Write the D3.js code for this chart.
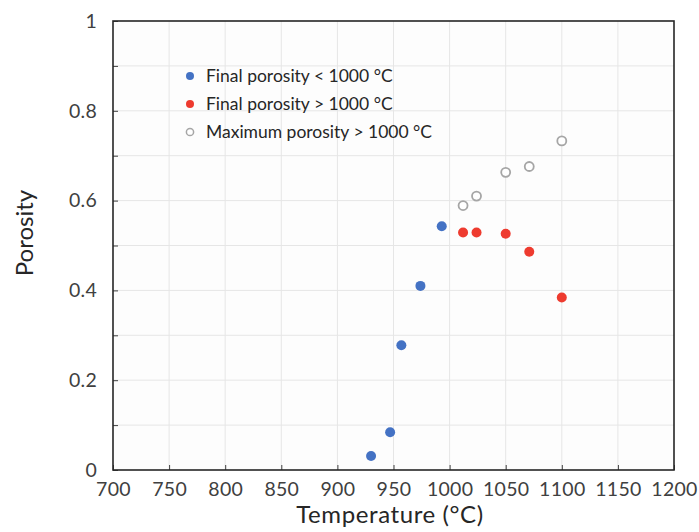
<!DOCTYPE html>
<html>
<head>
<meta charset="utf-8">
<script src="https://cdn.jsdelivr.net/npm/d3@7"></script>
<style>
  html, body { margin: 0; padding: 0; background: #ffffff; }
  svg { display: block; }
</style>
</head>
<body>
<script>
// Sintering temperature (°C) and measured porosity
const finalBelowTemp = [930, 947, 957, 974, 993];
const finalBelowPor  = [0.031, 0.084, 0.278, 0.410, 0.543];

const finalAboveTemp = [1012, 1024, 1050, 1071, 1100];
const finalAbovePor  = [0.529, 0.529, 0.526, 0.486, 0.384];

const maxAboveTemp = [1012, 1024, 1050, 1071, 1100];
const maxAbovePor  = [0.589, 0.610, 0.663, 0.676, 0.733];

const xTicks = [700, 750, 800, 850, 900, 950, 1000, 1050, 1100, 1150, 1200];
const yTickLabels = [0, 0.2, 0.4, 0.6, 0.8, 1];
const yGrid = [0, 0.1, 0.2, 0.3, 0.4, 0.5, 0.6, 0.7, 0.8, 0.9, 1];

const legendLabels = [
  "Final porosity < 1000 °C",
  "Final porosity > 1000 °C",
  "Maximum porosity > 1000 °C"
];

const W = 699, H = 532;
const m = { left: 113, right: 674, top: 21, bottom: 470 };

const svg = d3.select("body").append("svg")
  .attr("width", W).attr("height", H);

const x = d3.scaleLinear().domain([700, 1200]).range([m.left, m.right]);
const y = d3.scaleLinear().domain([0, 1]).range([m.bottom, m.top]);

const font = "Lato, 'Open Sans', sans-serif";
const textColor = "#404040";

// plot background
svg.append("rect")
  .attr("x", m.left).attr("y", m.top)
  .attr("width", m.right - m.left).attr("height", m.bottom - m.top)
  .attr("fill", "#fdfdfd");

// gridlines
svg.append("g").selectAll("line").data(xTicks.slice(1, -1)).join("line")
  .attr("x1", d => x(d)).attr("x2", d => x(d))
  .attr("y1", m.top).attr("y2", m.bottom)
  .attr("stroke", "#e6e6e6").attr("stroke-width", 1);
svg.append("g").selectAll("line").data(yGrid.slice(1, -1)).join("line")
  .attr("x1", m.left).attr("x2", m.right)
  .attr("y1", d => y(d)).attr("y2", d => y(d))
  .attr("stroke", "#e6e6e6").attr("stroke-width", 1);

// axes with inward ticks
const xAxis = svg.append("g")
  .attr("transform", `translate(0,${m.bottom})`)
  .call(d3.axisBottom(x).tickValues(xTicks).tickSizeInner(-5).tickSizeOuter(0).tickPadding(12).tickFormat(d3.format("d")));
const yAxis = svg.append("g")
  .attr("transform", `translate(${m.left},0)`)
  .call(d3.axisLeft(y).tickValues(yGrid).tickSizeInner(-5).tickSizeOuter(0).tickPadding(16)
    .tickFormat(d => yTickLabels.some(v => Math.abs(v - d) < 1e-9) ? String(+d.toFixed(1)) : ""));

[xAxis, yAxis].forEach(g => {
  g.select(".domain").remove();
  g.selectAll(".tick line").attr("stroke", "#404040").attr("stroke-width", 1);
  g.selectAll(".tick text")
    .attr("fill", textColor)
    .style("font-family", font)
    .style("font-size", "19.5px")
    .style("letter-spacing", "0.3px");
});

// frame
svg.append("rect")
  .attr("x", m.left).attr("y", m.top)
  .attr("width", m.right - m.left).attr("height", m.bottom - m.top)
  .attr("fill", "none").attr("stroke", "#262626").attr("stroke-width", 1.6);

// axis titles
svg.append("text")
  .attr("x", 390).attr("y", 523)
  .attr("text-anchor", "middle")
  .attr("fill", "#262626")
  .style("font-family", font).style("font-size", "24px")
  .style("letter-spacing", "0.6px")
  .text("Temperature (°C)");
svg.append("text")
  .attr("transform", `translate(33,233) rotate(-90)`)
  .attr("text-anchor", "middle")
  .attr("fill", "#262626")
  .style("font-family", font).style("font-size", "24px")
  .text("Porosity");

// data
const blue = "#4472c4", red = "#ee3b2f", gray = "#a6a6a6";
const r = 5;

svg.append("g").selectAll("circle").data(d3.zip(maxAboveTemp, maxAbovePor)).join("circle")
  .attr("cx", d => x(d[0])).attr("cy", d => y(d[1])).attr("r", r - 0.5)
  .attr("fill", "#ffffff").attr("stroke", gray).attr("stroke-width", 1.8);

svg.append("g").selectAll("circle").data(d3.zip(finalBelowTemp, finalBelowPor)).join("circle")
  .attr("cx", d => x(d[0])).attr("cy", d => y(d[1])).attr("r", r)
  .attr("fill", blue);

svg.append("g").selectAll("circle").data(d3.zip(finalAboveTemp, finalAbovePor)).join("circle")
  .attr("cx", d => x(d[0])).attr("cy", d => y(d[1])).attr("r", r)
  .attr("fill", red);

// legend
const legend = svg.append("g").attr("transform", "translate(190,76)");
const legendStyles = [
  { fill: blue, stroke: "none" },
  { fill: red, stroke: "none" },
  { fill: "#ffffff", stroke: gray }
];
legendLabels.forEach((label, i) => {
  const row = legend.append("g").attr("transform", `translate(0,${i * 28})`);
  row.append("circle")
    .attr("r", legendStyles[i].stroke === "none" ? 4 : 3.6)
    .attr("fill", legendStyles[i].fill)
    .attr("stroke", legendStyles[i].stroke)
    .attr("stroke-width", 1.5);
  row.append("text")
    .attr("x", 16).attr("dy", "0.35em")
    .attr("fill", "#262626")
    .style("font-family", font).style("font-size", "17.5px")
    .text(label);
});
</script>
</body>
</html>
